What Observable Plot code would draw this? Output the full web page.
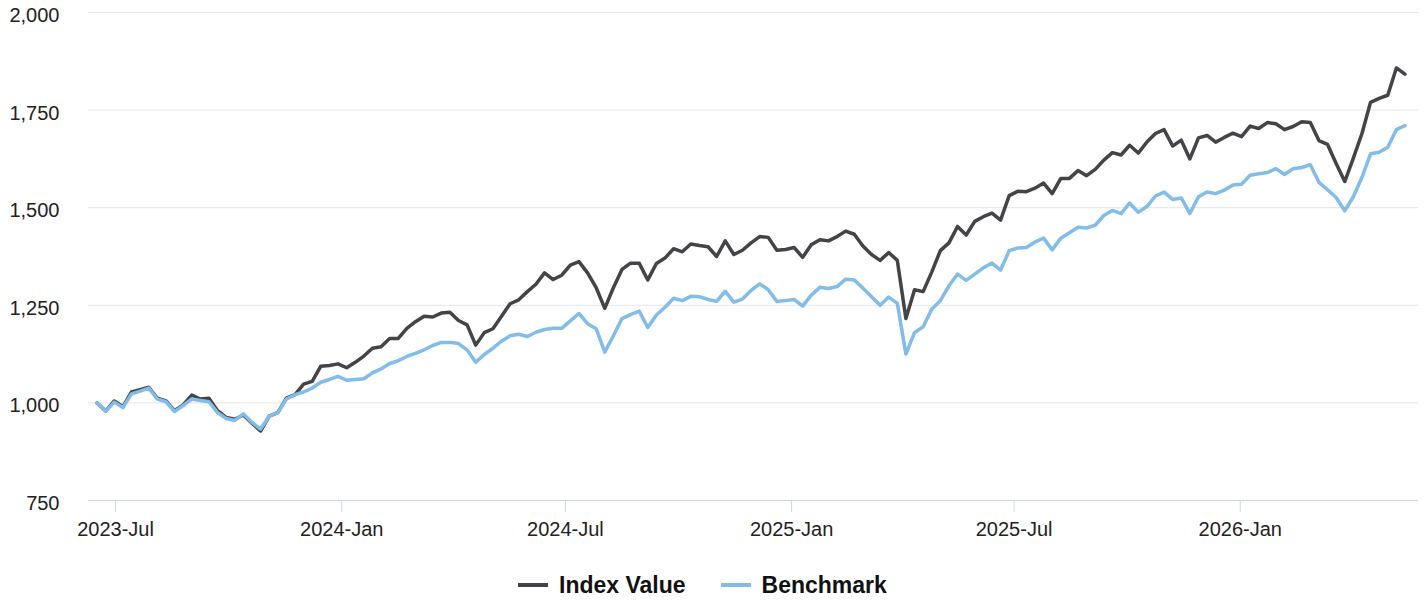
<!DOCTYPE html>
<html>
<head>
<meta charset="utf-8">
<script src="https://cdn.jsdelivr.net/npm/d3@7"></script>
<script src="https://cdn.jsdelivr.net/npm/@observablehq/plot@0.6"></script>
<style>
  body { margin: 0; background: #fff; font-family: "Liberation Sans", Arial, sans-serif; }
  #wrap { position: relative; width: 1426px; height: 603px; overflow: hidden; }
  #legend { position: absolute; top: 573px; left: 518px; display: flex; gap: 35px; font-weight: bold; font-size: 23px; line-height: 24px; color: #111; }
  .item { display: flex; align-items: center; gap: 11px; white-space: nowrap; }
  .sw { width: 30px; height: 4px; }
</style>
</head>
<body>
<div id="wrap">
  <div id="chart"></div>
  <div id="legend"></div>
</div>
<script>
// ---- data (weekly closes) ----
const startDate = "2023-06-16";   // first observation, one point per week
const indexValue = [
  1000, 979, 1005, 990, 1028, 1034, 1040, 1012, 1005, 980,
  995, 1020, 1010, 1012, 980, 963, 958, 969, 948, 928,
  966, 975, 1012, 1021, 1048, 1055, 1094, 1096, 1100, 1090,
  1104, 1120, 1140, 1144, 1165, 1165, 1191, 1208, 1222, 1220,
  1230, 1232, 1211, 1200, 1148, 1180, 1190, 1222, 1254, 1264,
  1285, 1304, 1333, 1316, 1327, 1353, 1362, 1333, 1295, 1242,
  1295, 1342, 1358, 1358, 1315, 1357, 1371, 1395, 1387, 1407,
  1403, 1400, 1375, 1415, 1380, 1391, 1410, 1426, 1424, 1391,
  1393, 1398, 1373, 1405, 1418, 1415, 1426, 1440, 1432, 1402,
  1380, 1365, 1385, 1365, 1216, 1290, 1285, 1335, 1390, 1410,
  1452, 1430, 1465, 1477, 1486, 1468, 1531, 1542, 1541, 1550,
  1563, 1536, 1575, 1575, 1595, 1582, 1598, 1622, 1641, 1635,
  1660, 1640, 1668, 1690, 1700, 1658, 1673, 1625, 1679, 1685,
  1668, 1680, 1691, 1682, 1709, 1703, 1718, 1715, 1700, 1708,
  1720, 1718, 1672, 1662, 1613, 1567, 1627, 1690, 1770, 1780,
  1788, 1858, 1842
];
const benchmark = [
  1000, 979, 1002, 988, 1023, 1030, 1038, 1010, 1003, 978,
  993, 1010, 1006, 1003, 975, 960, 955, 972, 950, 933,
  966, 975, 1010, 1021, 1028, 1038, 1053, 1060, 1068, 1058,
  1060, 1062, 1077, 1087, 1101, 1108, 1119, 1127, 1136, 1147,
  1155, 1155, 1152, 1136, 1104, 1124, 1140, 1158, 1172, 1176,
  1170, 1181, 1188, 1191, 1191, 1210, 1229, 1203, 1190, 1130,
  1172, 1216, 1226, 1235, 1193, 1225, 1245, 1268, 1262, 1273,
  1272, 1265, 1260, 1286, 1258, 1266, 1288, 1305, 1290, 1260,
  1262, 1265, 1248, 1276, 1296, 1293, 1298, 1317, 1315, 1294,
  1272, 1250, 1271, 1255, 1125, 1180, 1195, 1240, 1262, 1300,
  1330, 1314, 1330, 1346, 1358, 1340, 1390, 1397, 1398, 1412,
  1422, 1392, 1422, 1436, 1450, 1448, 1455, 1480, 1493, 1485,
  1512, 1488, 1503, 1530, 1540, 1521, 1525, 1485, 1528, 1540,
  1536, 1545, 1558, 1560, 1583, 1587, 1590, 1600, 1585, 1600,
  1603, 1610, 1565, 1546, 1526, 1492, 1528, 1578, 1638, 1642,
  1655, 1700, 1710
];
const seriesNames = ["Index Value", "Benchmark"];
const seriesColors = ["#434348", "#82bce8"];
const xTicks = ["2023-07-01", "2024-01-01", "2024-07-01", "2025-01-01", "2025-07-01", "2026-01-01"];
const yTicks = [750, 1000, 1250, 1500, 1750, 2000];
const xDomain = ["2023-06-09", "2026-05-26"];

// ---- build rows ----
const start = new Date(startDate);
const dates = indexValue.map((_, i) => d3.utcDay.offset(start, 7 * i));
const rows = [];
dates.forEach((d, i) => {
  rows.push({date: d, value: indexValue[i], series: seriesNames[0]});
  rows.push({date: d, value: benchmark[i], series: seriesNames[1]});
});

const chart = Plot.plot({
  width: 1426,
  height: 550,
  marginTop: 12,
  marginBottom: 50,
  marginLeft: 88,
  marginRight: 8,
  style: {fontFamily: "'Liberation Sans', Arial, sans-serif", fontSize: "20px", color: "#222", background: "#fff"},
  x: {type: "utc", domain: xDomain.map(s => new Date(s)), label: null},
  y: {domain: [750, 2000], label: null},
  color: {domain: seriesNames, range: seriesColors},
  marks: [
    Plot.gridY(yTicks, {stroke: "#e6e6e6", strokeOpacity: 1, strokeWidth: 1}),
    Plot.ruleY([750], {stroke: "#ccd6eb", strokeWidth: 1}),
    Plot.axisX(xTicks.map(s => new Date(s)), {tickSize: 12, stroke: "#ccd6eb", strokeOpacity: 1, tickFormat: () => "", label: null}),
    Plot.axisX(xTicks.map(s => new Date(s)), {tickSize: 0, tickPadding: 21, tickFormat: d3.utcFormat("%Y-%b"), fill: "#222", fontSize: 20, label: null}),
    Plot.axisY(yTicks, {tickSize: 0, tickPadding: 29, tickFormat: d3.format(","), fill: "#222", fontSize: 20, dy: 3, label: null}),
    Plot.line(rows.filter(r => r.series === seriesNames[0]), {x: "date", y: "value", stroke: "series", strokeWidth: 3.5, strokeLinejoin: "round"}),
    Plot.line(rows.filter(r => r.series === seriesNames[1]), {x: "date", y: "value", stroke: "series", strokeWidth: 3.5, strokeLinejoin: "round"})
  ]
});
document.getElementById("chart").appendChild(chart);

const legend = document.getElementById("legend");
seriesNames.forEach((name, i) => {
  const item = document.createElement("div");
  item.className = "item";
  const sw = document.createElement("span");
  sw.className = "sw";
  sw.style.background = seriesColors[i];
  const label = document.createElement("span");
  label.textContent = name;
  item.appendChild(sw);
  item.appendChild(label);
  legend.appendChild(item);
});
</script>
</body>
</html>
